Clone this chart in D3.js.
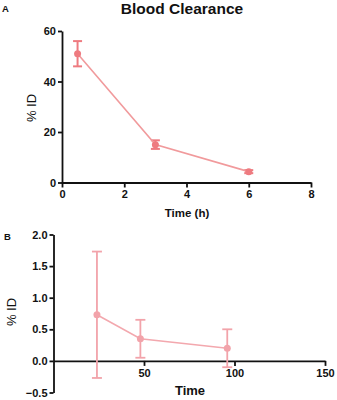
<!DOCTYPE html>
<html>
<head>
<meta charset="utf-8">
<script src="https://cdn.jsdelivr.net/npm/d3@7"></script>
<style>
  body { margin: 0; background: #fff; }
  svg { font-family: "Liberation Sans", Arial, sans-serif; }
  .axis path, .axis line { stroke: #111; stroke-width: 1.8px; }
  .axis text { font-size: 11px; font-weight: bold; fill: #111; }
</style>
</head>
<body>
<div id="chart"></div>
<script>
// panel A: blood clearance, hours
const timeA = [0.5, 3, 6];
const meanA = [51, 15, 4.3];
const errA = [5, 1.7, 0.6];
const xTicksA = [0, 2, 4, 6, 8];
const yTicksA = [0, 20, 40, 60];

// panel B: later time points
const timeB = [24, 48, 96];
const meanB = [0.73, 0.35, 0.2];
const errB = [1.0, 0.3, 0.3];
const xTicksB = [50, 100, 150];
const yTicksB = [-0.5, 0, 0.5, 1.0, 1.5, 2.0];

const width = 337, height = 400;
const svg = d3.select("#chart").append("svg")
  .attr("width", width).attr("height", height);

function panel(opts) {
  const { x, y, times, means, errs, color, lineColor, capW, pr } = opts;
  const pts = times.map((t, i) => ({ t: t, m: means[i], e: errs[i] }));

  const g = svg.append("g");

  // error bars
  const eb = g.selectAll(".eb").data(pts).enter().append("g")
    .attr("stroke", color).attr("stroke-width", opts.ebW || 2);
  eb.append("line")
    .attr("x1", d => x(d.t)).attr("x2", d => x(d.t))
    .attr("y1", d => y(d.m - d.e)).attr("y2", d => y(d.m + d.e));
  eb.append("line")
    .attr("x1", d => x(d.t) - capW).attr("x2", d => x(d.t) + capW)
    .attr("y1", d => y(d.m + d.e)).attr("y2", d => y(d.m + d.e));
  eb.append("line")
    .attr("x1", d => x(d.t) - capW).attr("x2", d => x(d.t) + capW)
    .attr("y1", d => y(d.m - d.e)).attr("y2", d => y(d.m - d.e));

  g.append("path").datum(pts)
    .attr("fill", "none").attr("stroke", lineColor).attr("stroke-width", 1.6)
    .attr("d", d3.line().x(d => x(d.t)).y(d => y(d.m)));

  g.selectAll(".pt").data(pts).enter().append("circle")
    .attr("cx", d => x(d.t)).attr("cy", d => y(d.m)).attr("r", pr)
    .attr("fill", color);
}

// ---------- A ----------
const xA = d3.scaleLinear().domain([0, 8]).range([62, 311]);
const yA = d3.scaleLinear().domain([0, 60]).range([182.5, 31]);

svg.append("g").attr("class", "axis")
  .attr("transform", "translate(0,182.5)")
  .call(d3.axisBottom(xA).tickValues(xTicksA).tickSize(5).tickSizeOuter(0).tickPadding(3));
svg.append("g").attr("class", "axis")
  .attr("transform", "translate(62,0)")
  .call(d3.axisLeft(yA).tickValues(yTicksA).tickSize(4).tickSizeOuter(0).tickPadding(2));

panel({ x: xA, y: yA, times: timeA, means: meanA, errs: errA,
  color: "#ee7b80", lineColor: "#f19a9c", capW: 4.5, pr: 3.5, ebW: 2 });

svg.append("text").attr("x", 182).attr("y", 14)
  .attr("text-anchor", "middle").attr("font-size", 15.5).attr("font-weight", "bold")
  .attr("fill", "#111").text("Blood Clearance");
svg.append("text").attr("x", 2).attr("y", 12)
  .attr("font-size", 9.5).attr("font-weight", "bold").attr("fill", "#111").text("A");
svg.append("text").attr("x", 187).attr("y", 217)
  .attr("text-anchor", "middle").attr("font-size", 11.5).attr("font-weight", "bold")
  .attr("fill", "#111").text("Time (h)");
svg.append("text").attr("transform", "translate(36,108) rotate(-90)")
  .attr("text-anchor", "middle").attr("font-size", 13).attr("fill", "#111")
  .text("% ID");

// ---------- B ----------
const xB = d3.scaleLinear().domain([0, 150]).range([53.5, 325]);
const yB = d3.scaleLinear().domain([-0.5, 2.0]).range([392.5, 234.5]);

svg.append("g").attr("class", "axis")
  .attr("transform", "translate(0," + yB(0) + ")")
  .call(d3.axisBottom(xB).tickValues(xTicksB).tickSize(5).tickSizeOuter(0).tickPadding(3));
svg.append("g").attr("class", "axis")
  .attr("transform", "translate(53.5,0)")
  .call(d3.axisLeft(yB).tickValues(yTicksB).tickSize(4).tickSizeOuter(0).tickPadding(2)
    .tickFormat(d3.format(".1f")));

panel({ x: xB, y: yB, times: timeB, means: meanB, errs: errB,
  color: "#f2a3aa", lineColor: "#f3a8ae", capW: 5, pr: 3.5, ebW: 1.8 });

svg.append("text").attr("x", 4).attr("y", 240)
  .attr("font-size", 9.5).attr("font-weight", "bold").attr("fill", "#111").text("B");
svg.append("text").attr("x", 190).attr("y", 395)
  .attr("text-anchor", "middle").attr("font-size", 13).attr("font-weight", "bold")
  .attr("fill", "#111").text("Time");
svg.append("text").attr("transform", "translate(16,312) rotate(-90)")
  .attr("text-anchor", "middle").attr("font-size", 13).attr("fill", "#111")
  .text("% ID");
</script>
</body>
</html>
